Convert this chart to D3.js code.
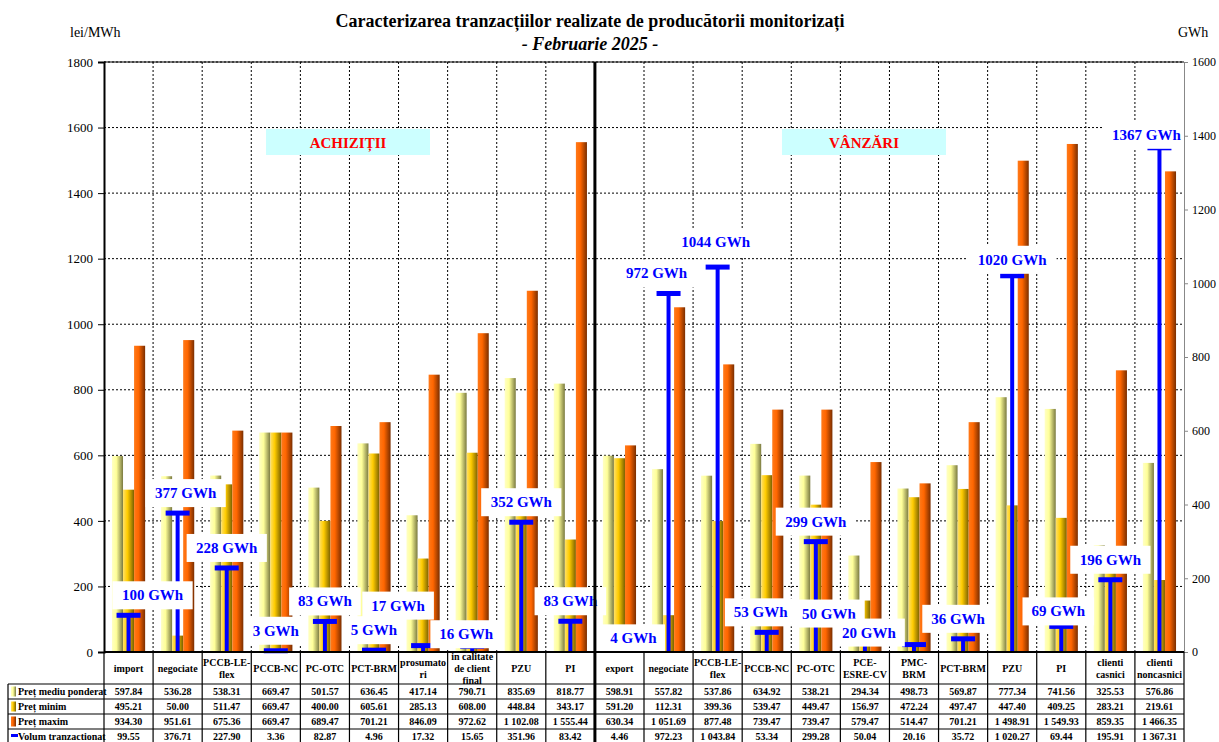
<!DOCTYPE html>
<html>
<head>
<meta charset="utf-8">
<script src="https://cdn.jsdelivr.net/npm/d3@7"></script>
<style>
  body { margin: 0; background: #fff; }
  svg text { font-family: "Liberation Serif", "Times New Roman", serif; }
</style>
</head>
<body>
<svg width="1219" height="742"></svg>
<script>
// categories (first 10 = achizitii, last 12 = vanzari)
const categories = ["import", "negociate", "PCCB-LE-\nflex", "PCCB-NC", "PC-OTC", "PCT-BRM", "prosumato\nri", "in calitate\nde client\nfinal", "PZU", "PI",
  "export", "negociate", "PCCB-LE-\nflex", "PCCB-NC", "PC-OTC", "PCE-\nESRE-CV", "PMC-\nBRM", "PCT-BRM", "PZU", "PI", "clienti\ncasnici", "clienti\nnoncasnici"];
const pretMediu = [597.84, 536.28, 538.31, 669.47, 501.57, 636.45, 417.14, 790.71, 835.69, 818.77,
  598.91, 557.82, 537.86, 634.92, 538.21, 294.34, 498.73, 569.87, 777.34, 741.56, 325.53, 576.86];
const pretMinim = [495.21, 50.00, 511.47, 669.47, 400.00, 605.61, 285.13, 608.00, 448.84, 343.17,
  591.20, 112.31, 399.36, 539.47, 449.47, 156.97, 472.24, 497.47, 447.40, 409.25, 283.21, 219.61];
const pretMaxim = [934.30, 951.61, 675.36, 669.47, 689.47, 701.21, 846.09, 972.62, 1102.08, 1555.44,
  630.34, 1051.69, 877.48, 739.47, 739.47, 579.47, 514.47, 701.21, 1498.91, 1549.93, 859.35, 1466.35];
const volum = [99.55, 376.71, 227.90, 3.36, 82.87, 4.96, 17.32, 15.65, 351.96, 83.42,
  4.46, 972.23, 1043.84, 53.34, 299.28, 50.04, 20.16, 35.72, 1020.27, 69.44, 195.91, 1367.31];
const leftTicks = [0, 200, 400, 600, 800, 1000, 1200, 1400, 1600, 1800];
const rightTicks = [0, 200, 400, 600, 800, 1000, 1200, 1400, 1600];

const svg = d3.select("svg");
const plot = { left: 104, right: 1184, top: 62, bottom: 652 };

const x = d3.scaleBand().domain(d3.range(categories.length)).range([plot.left, plot.right]);
const xs = d3.scaleBand().domain(["mediu", "minim", "maxim"]).range([0, x.bandwidth()]).paddingOuter(0.72).paddingInner(0);
const yL = d3.scaleLinear().domain([0, 1800]).range([plot.bottom, plot.top]);
const yR = d3.scaleLinear().domain([0, 1600]).range([plot.bottom, plot.top]);

// gradients for the bars
const defs = svg.append("defs");
const grads = { mediu: ["#ffffc4", "#ffff99", "#7a7a40"], minim: ["#ffe066", "#ffcc00", "#7a6000"], maxim: ["#ff7a1a", "#ff6600", "#7a2e00"] };
Object.keys(grads).forEach(function(k) {
  const g = defs.append("linearGradient").attr("id", "g-" + k).attr("x1", "0%").attr("x2", "100%");
  g.append("stop").attr("offset", "0").attr("stop-color", grads[k][0]);
  g.append("stop").attr("offset", "0.4").attr("stop-color", grads[k][1]);
  g.append("stop").attr("offset", "1").attr("stop-color", grads[k][2]);
});

// title
svg.append("text").attr("x", 590).attr("y", 27).attr("text-anchor", "middle")
  .attr("font-size", 18).attr("font-weight", "bold")
  .text("Caracterizarea tranzacțiilor realizate de producătorii monitorizați");
svg.append("text").attr("x", 590).attr("y", 50).attr("text-anchor", "middle")
  .attr("font-size", 18).attr("font-weight", "bold").attr("font-style", "italic")
  .text("- Februarie 2025 -");
svg.append("text").attr("x", 70).attr("y", 37).attr("font-size", 14).text("lei/MWh");
svg.append("text").attr("x", 1178).attr("y", 37).attr("font-size", 14).text("GWh");

// grid
svg.append("g").selectAll("line").data(leftTicks.slice(1)).join("line")
  .attr("x1", plot.left).attr("x2", plot.right)
  .attr("y1", d => yL(d)).attr("y2", d => yL(d))
  .attr("stroke", "#000").attr("stroke-dasharray", "2,2").attr("stroke-width", 1);
svg.append("g").selectAll("line").data(d3.range(1, categories.length)).join("line")
  .attr("x1", d => x(d)).attr("x2", d => x(d))
  .attr("y1", plot.top).attr("y2", plot.bottom)
  .attr("stroke", "#000").attr("stroke-dasharray", "2,2").attr("stroke-width", 1);

// section boxes
function sectionBox(cx, label) {
  svg.append("rect").attr("x", cx - 82).attr("y", 129).attr("width", 164).attr("height", 26).attr("fill", "#ccffff");
  svg.append("text").attr("x", cx).attr("y", 148).attr("text-anchor", "middle")
    .attr("font-size", 15).attr("font-weight", "bold").attr("fill", "#ff0000").text(label);
}
sectionBox(348, "ACHIZIȚII");
sectionBox(864, "VÂNZĂRI");

// bars
const series = [["mediu", pretMediu], ["minim", pretMinim], ["maxim", pretMaxim]];
series.forEach(function(s) {
  svg.append("g").selectAll("rect").data(s[1]).join("rect")
    .attr("x", (d, i) => x(i) + xs(s[0]))
    .attr("width", xs.bandwidth())
    .attr("y", d => yL(d))
    .attr("height", d => plot.bottom - yL(d))
    .attr("fill", "url(#g-" + s[0] + ")");
});

// volume whiskers
const wg = svg.append("g");
wg.selectAll("line").data(volum).join("line")
  .attr("x1", (d, i) => x(i) + x.bandwidth() / 2).attr("x2", (d, i) => x(i) + x.bandwidth() / 2)
  .attr("y1", plot.bottom).attr("y2", d => yR(d))
  .attr("stroke", "#0000ff").attr("stroke-width", 4);
wg.selectAll("rect").data(volum).join("rect")
  .attr("x", (d, i) => x(i) + x.bandwidth() / 2 - 12).attr("width", 24)
  .attr("y", d => yR(d) - 2.5).attr("height", 5)
  .attr("fill", "#0000ff");

// labels (nudged like the manually placed Excel labels)
const nudge = { 0: [24, 0], 1: [8, 0], 6: [-25, -20], 7: [-6, 8], 10: [14, 8], 11: [-12, 0], 12: [-2, -5], 13: [-6, 0], 15: [-36, 0], 16: [-45, 8], 17: [-5, 0], 18: [0, 4], 19: [-3, 5], 21: [-13, 7] };
const lg = svg.append("g");
volum.forEach(function(v, i) {
  const n = nudge[i] || [0, 0];
  const cx = x(i) + x.bandwidth() / 2 + n[0];
  const cy = yR(v) - 20 + n[1];
  const t = Math.round(v) + " GWh";
  const w = t.length * 8.6 + 20;
  lg.append("rect").attr("x", cx - w / 2).attr("y", cy - 14).attr("width", w).attr("height", 28).attr("fill", "#fff");
  lg.append("text").attr("x", cx).attr("y", cy + 5).attr("text-anchor", "middle")
    .attr("font-size", 15).attr("font-weight", "bold").attr("fill", "#0000ff").text(t);
});

// axes
const axL = svg.append("g").attr("transform", "translate(" + plot.left + ",0)")
  .call(d3.axisLeft(yL).tickValues(leftTicks).tickSize(6).tickPadding(5).tickFormat(d3.format("d")));
const axR = svg.append("g").attr("transform", "translate(" + plot.right + ",0)")
  .call(d3.axisRight(yR).tickValues(rightTicks).tickSize(4).tickPadding(4).tickFormat(d3.format("d")));
[axL, axR].forEach(function(a) {
  a.selectAll("text").attr("font-family", "Liberation Serif, serif").attr("font-size", 13).attr("fill", "#000");
  a.select(".domain").attr("stroke", "#000");
});
axR.selectAll("text").attr("font-size", 12);
axR.select(".domain").attr("stroke", "#888");
axR.selectAll(".tick line").attr("stroke", "#888");
axL.select(".domain").attr("stroke-width", 2);
svg.append("line").attr("x1", plot.left).attr("x2", plot.right).attr("y1", plot.top).attr("y2", plot.top).attr("stroke", "#000");

// data table
const tbl = svg.append("g");
const rowsY = [652, 684, 699, 714, 729, 744];
const fmt = function(v) { return d3.format(",.2f")(v).replace(/,/g, " "); };
const rowData = [pretMediu, pretMinim, pretMaxim, volum];
const rowLabels = ["Preț mediu ponderat", "Preț minim", "Preț maxim", "Volum tranzactionat"];
const swatch = ["url(#g-mediu)", "url(#g-minim)", "url(#g-maxim)", "#0000ff"];

// header
categories.forEach(function(c, i) {
  const lines = c.split("\n");
  const cx = x(i) + x.bandwidth() / 2;
  const lh = 12;
  const y0 = 668 - (lines.length - 1) * lh / 2 + 4;
  lines.forEach(function(l, k) {
    tbl.append("text").attr("x", cx).attr("y", y0 + k * lh).attr("text-anchor", "middle")
      .attr("font-size", 10).attr("font-weight", "bold").text(l);
  });
});
rowData.forEach(function(arr, r) {
  const top = rowsY[r + 1];
  arr.forEach(function(v, i) {
    tbl.append("text").attr("x", x(i) + x.bandwidth() / 2).attr("y", top + 11)
      .attr("text-anchor", "middle").attr("font-size", 10).attr("font-weight", "bold").text(fmt(v));
  });
  tbl.append("rect").attr("x", 11).attr("y", top + (r === 3 ? 5 : 2.5)).attr("width", r === 3 ? 7 : 5).attr("height", r === 3 ? 3 : 10)
    .attr("fill", swatch[r]);
  tbl.append("text").attr("x", 18).attr("y", top + 11).attr("font-size", 10).attr("font-weight", "bold").text(rowLabels[r]);
});
// table lines
rowsY.slice(1).forEach(function(yv) {
  tbl.append("line").attr("x1", 8).attr("x2", plot.right).attr("y1", yv).attr("y2", yv).attr("stroke", "#000").attr("stroke-width", 1.2);
});
tbl.append("line").attr("x1", plot.left).attr("x2", plot.right).attr("y1", plot.bottom).attr("y2", plot.bottom).attr("stroke", "#000").attr("stroke-width", 2);
d3.range(categories.length + 1).forEach(function(i) {
  const xv = i === categories.length ? plot.right : x(i);
  tbl.append("line").attr("x1", xv).attr("x2", xv).attr("y1", plot.bottom).attr("y2", 742).attr("stroke", "#000").attr("stroke-width", 1.2);
});
tbl.append("line").attr("x1", 8).attr("x2", 8).attr("y1", rowsY[1]).attr("y2", 742).attr("stroke", "#000").attr("stroke-width", 1.2);

// divider between achizitii and vanzari
svg.append("line").attr("x1", x(10)).attr("x2", x(10)).attr("y1", plot.top).attr("y2", 742)
  .attr("stroke", "#000").attr("stroke-width", 3);
</script>
</body>
</html>
